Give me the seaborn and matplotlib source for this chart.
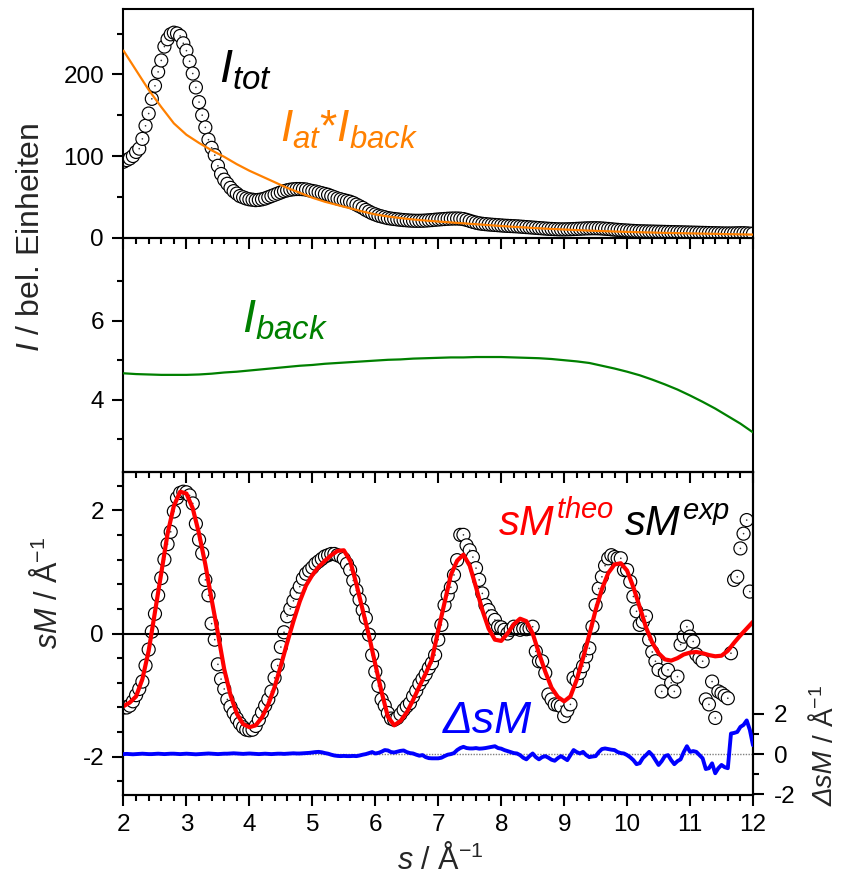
import numpy as np
import pandas as pd
import matplotlib
matplotlib.use("Agg")
import matplotlib.pyplot as plt
import seaborn as sns
from matplotlib.ticker import MultipleLocator, FixedLocator

# ---------------- data ----------------
s_tot = np.round(2 + 0.05 * np.arange(201), 2)
I_tot = [93, 95, 97, 100, 105, 109, 121, 137, 152, 170, 186, 203, 217, 234, 243, 249, 251, 250, 247, 238,
         229, 216, 201, 184, 166, 150, 135, 120, 110, 101, 88, 78, 71, 66, 61, 57, 54, 51, 49.5, 48,
         47, 46.5, 46, 46.3, 47, 48, 49.5, 51, 52.5, 54, 55.5, 57, 58, 58.8, 59.3, 59.6, 59.6, 59.4, 59, 58,
         57.2, 56.5, 55.5, 54.5, 53.5, 52.5, 51, 49.5, 48, 47, 46, 45, 44, 42.5, 40.5, 38.5, 36.5, 34, 32, 30,
         28.5, 27, 26, 25, 24, 23.4, 22.9, 22.4, 22, 21.6, 21.3, 21, 20.8, 20.7, 20.7, 20.8, 21, 21.3, 21.6, 22,
         22.3, 22.6, 22.9, 23.2, 23.4, 23.5, 23.5, 23.3, 22.8, 21.8, 20.6, 19.4, 18.4, 17.6, 17, 16.6, 16.2, 15.9, 15.6, 15.3,
         15, 14.7, 14.5, 14.3, 14.1, 13.9, 13.6, 13.3, 13, 12.7, 12.4, 12.1, 11.8, 11.5, 11.2, 10.9, 10.7, 10.5, 10.3, 10.2,
         10.2, 10.3, 10.4, 10.6, 10.8, 11, 11.2, 11.4, 11.5, 11.6, 11.6, 11.5, 11.3, 11, 10.7, 10.3, 9.9, 9.6, 9.3, 9.0,
         8.8, 8.5, 8.3, 8.1, 7.9, 7.8, 7.7, 7.6, 7.5, 7.4, 7.3, 7.2, 7.1, 7.0, 6.9, 6.8, 6.7, 6.6, 6.5, 6.4,
         6.3, 6.2, 6.1, 6.0, 5.9, 5.8, 5.7, 5.6, 5.5, 5.4, 5.3, 5.2, 5.2, 5.2, 5.3, 5.4, 5.5, 5.5, 5.3, 5.0,
         4.8]

s_bg = np.round(2 + 0.2 * np.arange(51), 2)
I_at_back = [229, 205, 181, 160, 140, 126, 116, 107, 99, 90,
             82, 75, 68, 61, 55, 49, 44, 40, 36, 32,
             28.5, 26, 24, 22.3, 21, 19.8, 18.7, 17.6, 16.5, 15.4,
             14.3, 13.3, 12.4, 11.5, 10.7, 10.0, 9.3, 8.7, 8.1, 7.6,
             7.1, 6.7, 6.3, 5.9, 5.6, 5.3, 5.0, 4.7, 4.4, 4.1,
             3.8]
I_back = [4.67, 4.65, 4.64, 4.63, 4.63, 4.63, 4.64, 4.66, 4.69, 4.71,
          4.74, 4.77, 4.80, 4.83, 4.86, 4.88, 4.91, 4.93, 4.95, 4.97,
          4.99, 5.01, 5.02, 5.04, 5.05, 5.06, 5.07, 5.07, 5.08, 5.08,
          5.08, 5.07, 5.06, 5.05, 5.03, 5.00, 4.97, 4.93, 4.86, 4.79,
          4.71, 4.62, 4.51, 4.39, 4.26, 4.11, 3.95, 3.78, 3.59, 3.40,
          3.18]

s_exp = np.round(2 + 0.05 * np.arange(200), 2)
sM_exp = [-1.20, -1.20, -1.17, -1.10, -1.00, -0.90, -0.78, -0.52, -0.26, 0.03, 0.32, 0.62, 0.90, 1.20, 1.45, 1.65, 1.98, 2.20, 2.28, 2.30,
          2.29, 2.24, 2.11, 1.78, 1.52, 1.30, 0.87, 0.62, 0.16, -0.10, -0.50, -0.74, -0.90, -1.07, -1.19, -1.29, -1.38, -1.46, -1.52, -1.56,
          -1.57, -1.56, -1.50, -1.40, -1.28, -1.17, -1.07, -0.94, -0.72, -0.52, -0.22, 0.02, 0.28, 0.40, 0.53, 0.66, 0.76, 0.89, 0.97, 1.02,
          1.07, 1.13, 1.17, 1.21, 1.25, 1.27, 1.29, 1.29, 1.27, 1.25, 1.21, 1.13, 1.03, 0.86, 0.70, 0.55, 0.38, 0.25, -0.02, -0.35,
          -0.62, -0.85, -1.07, -1.17, -1.29, -1.38, -1.40, -1.37, -1.31, -1.24, -1.18, -1.13, -1.02, -0.93, -0.82, -0.74, -0.66, -0.56, -0.48, -0.35,
          -0.10, 0.14, 0.46, 0.62, 0.75, 0.95, 1.19, 1.60, 1.60, 1.43, 1.35, 1.24, 1.06, 0.87, 0.65, 0.46, 0.38, 0.28, 0.22, 0.11,
          0.10, 0.06, 0.00, 0.06, 0.11, 0.08, 0.06, 0.08, 0.07, 0.08, 0.11, -0.29, -0.45, -0.45, -0.64, -0.99, -1.07, -1.15, -1.16, -1.18,
          -1.34, -1.25, -1.15, -0.72, -0.77, -0.64, -0.53, -0.37, -0.24, 0.11, 0.46, 0.73, 0.92, 1.10, 1.22, 1.27, 1.24, 1.22, 1.22, 1.03,
          1.03, 0.84, 0.60, 0.36, 0.14, 0.19, 0.28, -0.10, -0.30, -0.45, -0.59, -0.94, -0.64, -0.59, -0.80, -0.94, -0.70, -0.18, -0.05, 0.11,
          -0.05, -0.13, -0.34, -0.40, -0.45, -1.07, -1.15, -0.78, -1.37, -0.94, -0.97, -1.01, -1.05, -0.32, 0.87, 0.92, 1.38, 1.62, 1.84, 0.68]

s_theo = np.round(2 + 0.1 * np.arange(101), 2)
sM_theo = [-1.18, -1.12, -1.02, -0.74, -0.28, 0.35, 0.98, 1.62, 2.07, 2.30,
           2.27, 2.03, 1.62, 1.12, 0.55, 0.00, -0.58, -1.00, -1.30, -1.47,
           -1.52, -1.49, -1.36, -1.15, -0.87, -0.52, -0.15, 0.20, 0.52, 0.78,
           0.95, 1.08, 1.18, 1.27, 1.34, 1.35, 1.18, 0.80, 0.38, -0.04,
           -0.50, -0.95, -1.35, -1.49, -1.42, -1.28, -1.08, -0.86, -0.65, -0.42,
           0.05, 0.50, 0.95, 1.18, 1.28, 1.10, 0.75, 0.38, 0.08, -0.10,
           -0.12, 0.00, 0.15, 0.24, 0.20, 0.00, -0.32, -0.62, -0.88, -1.03,
           -1.10, -1.02, -0.75, -0.40, -0.02, 0.38, 0.72, 0.98, 1.12, 1.14,
           1.02, 0.75, 0.43, 0.10, -0.15, -0.32, -0.42, -0.44, -0.40, -0.34,
           -0.31, -0.30, -0.32, -0.35, -0.37, -0.36, -0.28, -0.15, -0.03, 0.08,
           0.19]

s_delta = np.round(2 + 0.05 * np.arange(201), 2)
dsM = [0.00, 0.01, 0.00, -0.01, 0.00, 0.01, 0.02, 0.01, 0.00, 0.00, 0.01, 0.02, 0.01, 0.00, 0.01, 0.02, 0.02, 0.01, 0.00, 0.01,
       0.02, 0.01, 0.00, -0.01, 0.00, 0.01, 0.02, 0.03, 0.02, 0.01, 0.00, 0.01, 0.02, 0.02, 0.03, 0.04, 0.03, 0.02, 0.01, 0.02,
       0.03, 0.02, 0.01, 0.00, 0.01, 0.02, 0.01, 0.00, 0.01, 0.02, 0.02, 0.01, 0.02, 0.03, 0.04, 0.03, 0.03, 0.04, 0.05, 0.06,
       0.08, 0.10, 0.11, 0.09, 0.05, 0.02, -0.03, -0.07, -0.09, -0.10, -0.09, -0.10, -0.10, -0.09, -0.10, -0.07, -0.03, 0.00, 0.05, 0.10,
       0.03, 0.06, 0.12, 0.20, 0.18, 0.10, 0.08, 0.12, 0.16, 0.18, 0.10, 0.05, 0.03, -0.03, -0.08, -0.05, -0.15, -0.20, -0.21, -0.21,
       -0.21, -0.18, -0.10, -0.03, 0.00, 0.05, 0.20, 0.30, 0.36, 0.30, 0.28, 0.28, 0.30, 0.27, 0.28, 0.30, 0.33, 0.36, 0.39, 0.30,
       0.27, 0.20, 0.15, 0.10, 0.05, 0.03, -0.05, -0.18, -0.26, -0.10, 0.03, -0.15, -0.26, -0.15, -0.10, -0.18, -0.28, -0.33, -0.20, -0.10,
       -0.20, -0.30, -0.05, 0.20, 0.10, 0.03, 0.11, -0.05, -0.15, -0.12, -0.10, 0.10, 0.25, 0.28, 0.25, 0.22, 0.20, 0.10, 0.05, 0.03,
       -0.05, -0.16, -0.30, -0.50, -0.45, -0.20, -0.05, 0.11, -0.05, -0.30, -0.54, -0.35, -0.10, -0.05, -0.30, -0.50, -0.35, -0.26, 0.10, 0.39,
       0.11, 0.15, 0.11, -0.05, -0.21, -0.74, -0.70, -0.46, -0.95, -0.70, -0.54, -0.65, -0.70, 1.02, 1.05, 1.10, 1.35, 1.45, 1.67, 1.20,
       0.44]

# ---------------- style ----------------
sns.set_theme(style="ticks")
plt.rcParams.update({
    "font.family": ["Liberation Sans", "DejaVu Sans"],
    "mathtext.fontset": "custom",
    "mathtext.rm": "Liberation Sans",
    "mathtext.it": "Liberation Sans:italic",
    "mathtext.bf": "Liberation Sans:bold",
    "mathtext.sf": "Liberation Sans",
    "axes.unicode_minus": False,
    "axes.edgecolor": "black",
    "axes.linewidth": 1.5,
    "xtick.color": "black",
    "ytick.color": "black",
})

W_PX, H_PX = 842, 886
fig = plt.figure(figsize=(W_PX / 100, H_PX / 100), dpi=100)
fig.patch.set_facecolor("white")


def fx(px):
    return px / W_PX


def fy(py):
    return 1 - py / H_PX


X0, X1 = 123.5, 753.0


def make_ax(top_px, bot_px):
    a = fig.add_axes([fx(X0), fy(bot_px), (X1 - X0) / W_PX, (bot_px - top_px) / H_PX])
    a.set_facecolor("none")
    return a


ax1 = make_ax(9, 237.7)
ax2 = make_ax(237.7, 472)
ax3 = make_ax(472, 795)

TICK_FS = 17.5
LAB_FS = 22


def style_ax(a, labelbottom=False):
    a.set_xlim(2, 12)
    a.xaxis.set_major_locator(MultipleLocator(1))
    a.xaxis.set_minor_locator(MultipleLocator(0.2))
    a.tick_params(which="both", direction="out", top=False, right=False,
                  width=1.5, colors="black", labelsize=TICK_FS, pad=6,
                  labelbottom=labelbottom)
    a.tick_params(which="major", length=8)
    a.tick_params(which="minor", length=4.5)
    for sp in a.spines.values():
        sp.set_visible(True)
        sp.set_color("black")
        sp.set_linewidth(1.5)
    a.set_xlabel("")
    a.set_ylabel("")


def circles(a, x, y):
    n = len(x)
    df = pd.DataFrame({"s": np.repeat(np.asarray(x, float), 2),
                       "v": np.repeat(np.asarray(y, float), 2),
                       "kind": np.tile(["ring", "dot"], n)})
    lws = np.where(df["kind"] == "ring", 0.85, 0.0)
    sns.scatterplot(data=df, x="s", y="v", hue="kind", size="kind",
                    palette={"ring": "white", "dot": "#333333"},
                    sizes={"ring": 88, "dot": 1.4},
                    edgecolor="black", linewidth=lws, legend=False,
                    ax=a, zorder=2)


# ---- top panel ----
circles(ax1, s_tot, I_tot)
sns.lineplot(x=s_bg, y=I_at_back, color="#FF8000", lw=1.6, ax=ax1,
             estimator=None, sort=False, zorder=3)
style_ax(ax1)
ax1.set_ylim(0, 280)
ax1.yaxis.set_major_locator(FixedLocator([0, 100, 200]))
ax1.yaxis.set_minor_locator(FixedLocator([50, 150, 250]))

# ---- middle panel ----
sns.lineplot(x=s_bg, y=I_back, color="#008000", lw=1.6, ax=ax2,
             estimator=None, sort=False, zorder=3)
style_ax(ax2)
ax2.set_ylim(2.18, 8.09)
ax2.yaxis.set_major_locator(FixedLocator([4, 6]))
ax2.yaxis.set_minor_locator(FixedLocator([3, 5, 7]))

# ---- bottom panel ----
circles(ax3, s_exp, sM_exp)
ax3.axhline(0, color="black", lw=1.5, zorder=2.5)
sns.lineplot(x=s_theo, y=sM_theo, color="#FF0000", lw=3.0, ax=ax3,
             estimator=None, sort=False, zorder=3)
style_ax(ax3, labelbottom=True)
ax3.set_ylim(-2.62, 2.62)
ax3.yaxis.set_major_locator(MultipleLocator(2))
ax3.yaxis.set_minor_locator(MultipleLocator(0.4))

ax3b = ax3.twinx()
ax3b.set_facecolor("none")
ax3b.axhline(0, color="#808080", lw=1.0, ls=(0, (1, 1)), zorder=1)
sns.lineplot(x=s_delta, y=dsM, color="#0000FF", lw=2.8, ax=ax3b,
             estimator=None, sort=False, zorder=3)
ax3b.set_ylim(-2.03, 14.0)
ax3b.yaxis.set_major_locator(FixedLocator([-2, 0, 2]))
ax3b.yaxis.set_minor_locator(FixedLocator([-1, 1]))
ax3b.tick_params(which="both", direction="out", left=False, right=True,
                 labelleft=False, labelright=True, width=1.5, colors="black",
                 labelsize=TICK_FS, pad=7)
ax3b.tick_params(which="major", length=8)
ax3b.tick_params(which="minor", length=4.5)
for sp in ax3b.spines.values():
    sp.set_linewidth(1.5)
    sp.set_color("black")
ax3b.set_ylabel("")
ax3b.set_xlabel("")

# ---------------- texts ----------------
fig.text(fx(31), fy(237), r"$I$ / bel. Einheiten", rotation=90,
         ha="center", va="center", fontsize=LAB_FS + 1)
fig.text(fx(48), fy(593), r"$sM$ / Å$^{-1}$", rotation=90,
         ha="center", va="center", fontsize=LAB_FS)
fig.text(fx(440), fy(860), r"$s$ / Å$^{-1}$", ha="center", va="center",
         fontsize=LAB_FS)

t_r = fig.text(fx(833), fy(806), "ΔsM", rotation=90, rotation_mode="anchor",
               ha="left", va="baseline", fontsize=20, fontstyle="italic")
ax3b.annotate(" / Å$^{-1}$", xy=(fx(833), 1.0), xycoords=("figure fraction", t_r),
              rotation=90, rotation_mode="anchor", ha="left", va="baseline",
              fontsize=20, annotation_clip=False)

fig.text(fx(219), fy(82), r"$I_{tot}$", fontsize=34, color="black",
         ha="left", va="baseline")
fig.text(fx(280), fy(142), r"$I_{at}$*$I_{back}$", fontsize=32, color="#FF8000",
         ha="left", va="baseline")
fig.text(fx(242), fy(332), r"$I_{back}$", fontsize=34, color="#008000",
         ha="left", va="baseline")
fig.text(fx(498), fy(536), r"$sM^{theo}$", fontsize=30, color="#FF0000",
         ha="left", va="baseline")
fig.text(fx(624), fy(536), r"$sM^{exp}$", fontsize=30, color="black",
         ha="left", va="baseline")
fig.text(fx(443), fy(733), "ΔsM", fontsize=32, color="#0000FF",
         fontstyle="italic", ha="left", va="baseline")

fig.savefig("out.png", dpi=100, facecolor="white")
